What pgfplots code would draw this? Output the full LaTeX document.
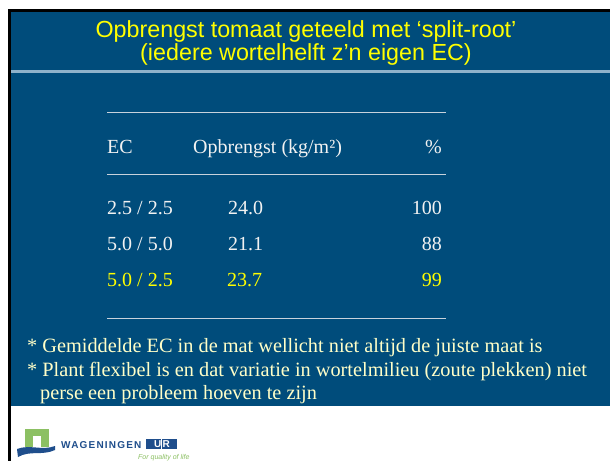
\documentclass[border=0pt]{standalone}
\usepackage{pgfplots}
\pgfplotsset{compat=1.18}
\usepackage{pgfplotstable}
\usepackage{fontspec}
\setmainfont{Liberation Serif}
\newfontfamily\arial{Liberation Sans}
\newfontfamily\wagfont[LetterSpace=12]{Liberation Sans}

\definecolor{slide}{HTML}{004C7B}
\definecolor{sep}{HTML}{8FB2CA}
\definecolor{ttl}{HTML}{FFFF00}
\definecolor{txt}{HTML}{F2F2F2}
\definecolor{note}{HTML}{FFFFC8}
\definecolor{rulec}{HTML}{C8D2DC}
\definecolor{wgreen}{HTML}{8CC063}
\definecolor{wblue}{HTML}{1F4E8C}

% table rows: x of each column, baseline y, cell texts
\pgfplotstableread[col sep=comma]{
xec,xyld,xpct,y,ec,yld,pct
107,228,442,214,2.5 / 2.5,24.0,100
107,228,442,250,5.0 / 5.0,21.1,88
}\rowsa
\pgfplotstableread[col sep=comma]{
xec,xyld,xpct,y,ec,yld,pct
107,227,442,286,5.0 / 2.5,23.7,99
}\rowsb

\pgfplotsset{
  cell/.style 2 args={draw=none, mark=none, nodes near coords,
    point meta=explicit symbolic,
    nodes near coords style={anchor=#1, inner sep=0pt, text=#2,
      font=\fontsize{20bp}{24bp}\selectfont}},
}

\begin{document}
\begin{tikzpicture}
\begin{axis}[
  width=610bp, height=461bp, scale only axis,
  xmin=0, xmax=610, ymin=0, ymax=461, y dir=reverse,
  axis lines=none, clip=false,
]
% slide background
\fill[white] (axis cs:0,0) rectangle (axis cs:610,461);
\fill[black] (axis cs:8,9) rectangle (axis cs:610,12);
\fill[black] (axis cs:8,9) rectangle (axis cs:10.5,461);
\fill[slide] (axis cs:10.5,12) rectangle (axis cs:610,406);
\fill[sep] (axis cs:10.5,70) rectangle (axis cs:610,72.5);

% title
\node[anchor=base, inner sep=0pt, text=ttl, font=\arial\fontsize{23.3bp}{24bp}\selectfont]
  at (axis cs:306,38) {Opbrengst tomaat geteeld met ‘split-root’};
\node[anchor=base, inner sep=0pt, text=ttl, font=\arial\fontsize{23.3bp}{24bp}\selectfont]
  at (axis cs:306,61) {(iedere wortelhelft z’n eigen EC)};

% table rules
\draw[rulec, line width=0.9bp] (axis cs:107,112) -- (axis cs:446,112);
\draw[rulec, line width=0.9bp] (axis cs:107,174) -- (axis cs:446,174);
\draw[rulec, line width=0.9bp] (axis cs:107,318) -- (axis cs:446,318);

% header
\node[anchor=base west, inner sep=0pt, text=txt, font=\fontsize{20bp}{24bp}\selectfont]
  at (axis cs:107,153) {EC};
\node[anchor=base west, inner sep=0pt, text=txt, font=\fontsize{20bp}{24bp}\selectfont]
  at (axis cs:193,153) {Opbrengst (kg/m²)};
\node[anchor=base east, inner sep=0pt, text=txt, font=\fontsize{20bp}{24bp}\selectfont]
  at (axis cs:442,153) {\%};

% table cells
\addplot[cell={base west}{txt}] table[x=xec, y=y, meta=ec] {\rowsa};
\addplot[cell={base west}{txt}] table[x=xyld, y=y, meta=yld] {\rowsa};
\addplot[cell={base east}{txt}] table[x=xpct, y=y, meta=pct] {\rowsa};
\addplot[cell={base west}{ttl}] table[x=xec, y=y, meta=ec] {\rowsb};
\addplot[cell={base west}{ttl}] table[x=xyld, y=y, meta=yld] {\rowsb};
\addplot[cell={base east}{ttl}] table[x=xpct, y=y, meta=pct] {\rowsb};

% notes
\node[anchor=base west, inner sep=0pt, text=note, font=\fontsize{20.3bp}{24bp}\selectfont]
  at (axis cs:27,352) {* Gemiddelde EC in de mat wellicht niet altijd de juiste maat is};
\node[anchor=base west, inner sep=0pt, text=note, font=\fontsize{20.3bp}{24bp}\selectfont]
  at (axis cs:27,376) {* Plant flexibel is en dat variatie in wortelmilieu (zoute plekken) niet};
\node[anchor=base west, inner sep=0pt, text=note, font=\fontsize{20.3bp}{24bp}\selectfont]
  at (axis cs:40,399) {perse een probleem hoeven te zijn};

% logo
\fill[wgreen] (axis cs:25,429) rectangle (axis cs:49,447);
\fill[white] (axis cs:33,436) rectangle (axis cs:41,447);
\fill[wblue] (axis cs:17,449) .. controls (axis cs:30,444) and (axis cs:42,451) .. (axis cs:55,446)
  -- (axis cs:55,450) .. controls (axis cs:42,456) and (axis cs:30,450) .. (axis cs:18,457) -- cycle;
\node[anchor=base west, inner sep=0pt, text=wblue, font=\wagfont\bfseries\fontsize{10bp}{11bp}\selectfont]
  at (axis cs:61,448) {WAGENINGEN};
\fill[wblue] (axis cs:146,439) rectangle (axis cs:177,449);
\node[anchor=base, inner sep=0pt, text=white, font=\wagfont\bfseries\fontsize{10bp}{11bp}\selectfont]
  at (axis cs:162,447.5) {UR};
\draw[white, line width=0.8bp] (axis cs:161,439) -- (axis cs:161,449);
\node[anchor=base west, inner sep=0pt, text=wgreen, font=\arial\itshape\fontsize{7bp}{8bp}\selectfont]
  at (axis cs:138,459) {For quality of life};
\end{axis}
\end{tikzpicture}
\end{document}
